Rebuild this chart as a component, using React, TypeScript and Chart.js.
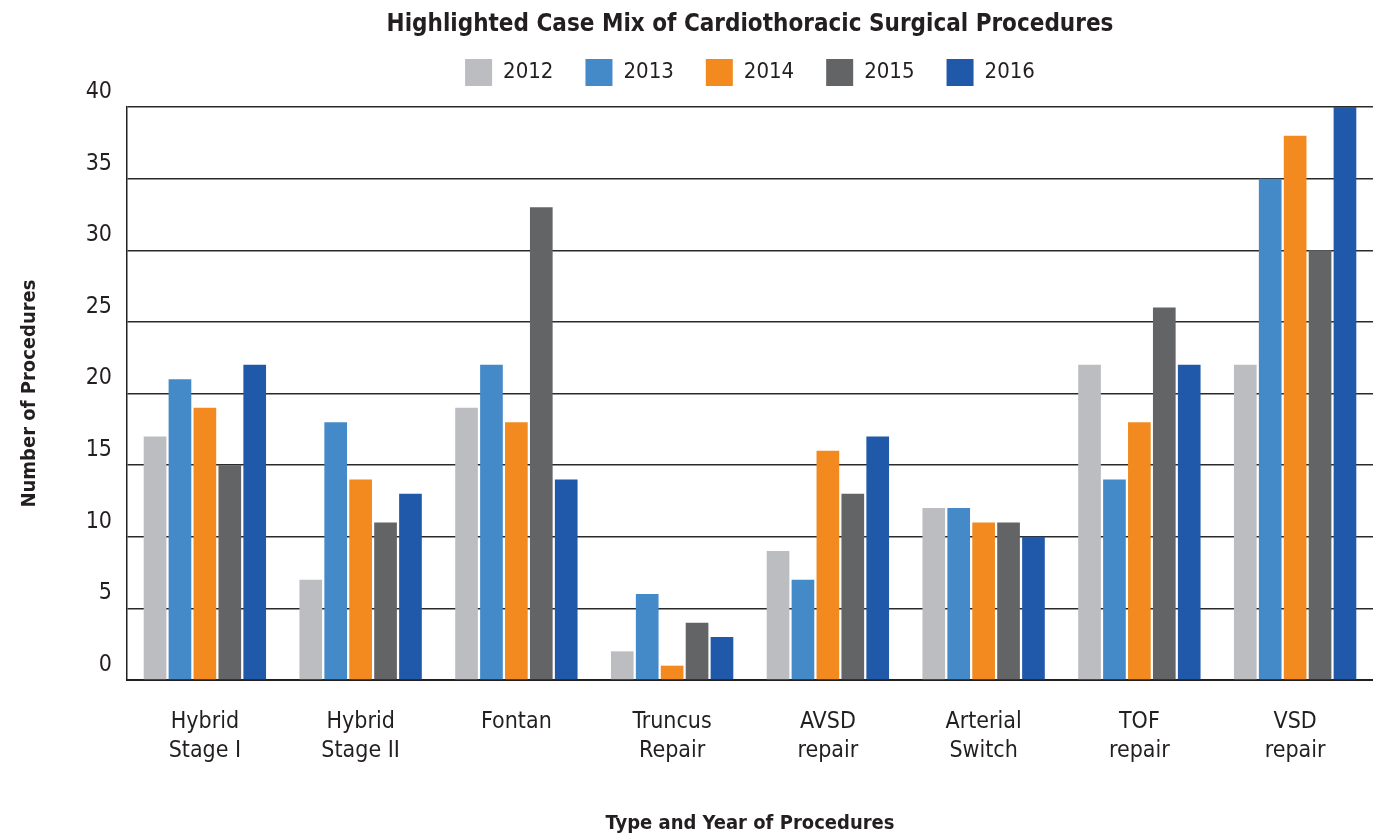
import React, { useEffect, useRef } from "react";
import { Chart, registerables } from "chart.js";

Chart.register(...registerables);

const categories: string[][] = [
  ["Hybrid", "Stage I"],
  ["Hybrid", "Stage II"],
  ["Fontan"],
  ["Truncus", "Repair"],
  ["AVSD", "repair"],
  ["Arterial", "Switch"],
  ["TOF", "repair"],
  ["VSD", "repair"],
];

const years = ["2012", "2013", "2014", "2015", "2016"];
const colors = ["#BCBDC0", "#448AC9", "#F28A20", "#636466", "#2059A9"];

const v2012 = [17, 7, 19, 2, 9, 12, 22, 22];
const v2013 = [21, 18, 22, 6, 7, 12, 14, 35];
const v2014 = [19, 14, 18, 1, 16, 11, 18, 38];
const v2015 = [15, 11, 33, 4, 13, 11, 26, 30];
const v2016 = [22, 13, 14, 3, 17, 10, 22, 40];
const seriesValues = [v2012, v2013, v2014, v2015, v2016];

const FONT = "'Liberation Sans Narrow', 'DejaVu Sans Condensed', 'Liberation Sans', sans-serif";

const legendExtra = {
  id: "legendExtra",
  beforeInit(chart: any) {
    const legend = chart.legend;
    if (!legend) return;
    const orig = legend.fit;
    legend.fit = function () {
      orig.call(this);
      this.height += 11;
    };
  },
};

export default function App() {
  const ref = useRef<HTMLCanvasElement | null>(null);
  useEffect(() => {
    if (!ref.current) return;
    document.body.style.margin = "0";
    const chart = new Chart(ref.current, {
      type: "bar",
      data: {
        labels: categories,
        datasets: years.map((y, i) => ({
          label: y,
          data: seriesValues[i],
          backgroundColor: colors[i],
          borderWidth: 0,
          barPercentage: 0.91,
          categoryPercentage: 0.8,
        })),
      },
      plugins: [legendExtra],
      options: {
        responsive: false,
        animation: false,
        layout: { padding: { left: 0, right: 0, top: 0, bottom: 0 } },
        plugins: {
          tooltip: { enabled: false },
          title: {
            display: true,
            fullSize: false,
            text: "Highlighted Case Mix of Cardiothoracic Surgical Procedures",
            color: "#231F20",
            font: { family: FONT, size: 24, weight: "bold", lineHeight: 1 },
            padding: { top: 13, bottom: -10 },
          },
          legend: {
            display: true,
            fullSize: false,
            labels: {
              color: "#231F20",
              font: { family: FONT, size: 22 },
              boxWidth: 27,
              boxHeight: 27,
              padding: 32,
            },
          },
        },
        scales: {
          x: {
            grid: { display: false, drawTicks: false },
            border: { display: true, color: "#231F20", width: 2 },
            ticks: {
              color: "#231F20",
              font: { family: FONT, size: 23, lineHeight: 1.25 },
              padding: 28,
              maxRotation: 0,
              autoSkip: false,
            },
            title: {
              display: true,
              text: "Type and Year of Procedures",
              color: "#231F20",
              font: { family: FONT, size: 20, weight: "bold" },
              padding: { top: 0, bottom: 2 },
              align: "center",
            },
            afterFit: (s: any) => {
              s.height = 158;
            },
          },
          y: {
            min: 0,
            max: 40,
            grid: { color: "#2a2a2a", lineWidth: 1.5, drawTicks: false },
            border: { display: true, color: "#231F20", width: 1.5 },
            ticks: {
              stepSize: 5,
              color: "#231F20",
              font: { family: FONT, size: 23 },
              padding: 15,
              labelOffset: -15,
            },
            title: {
              display: true,
              text: "Number of Procedures",
              color: "#231F20",
              font: { family: FONT, size: 20, weight: "bold" },
              padding: { top: 18, bottom: 0 },
            },
            afterFit: (s: any) => {
              s.width = 127;
            },
          },
        },
      },
    });
    return () => chart.destroy();
  }, []);
  return (
    <div style={{ position: "absolute", left: 0, top: 0, width: 1373, height: 838, background: "#fff" }}>
      <canvas ref={ref} width={1373} height={838} />
    </div>
  );
}
